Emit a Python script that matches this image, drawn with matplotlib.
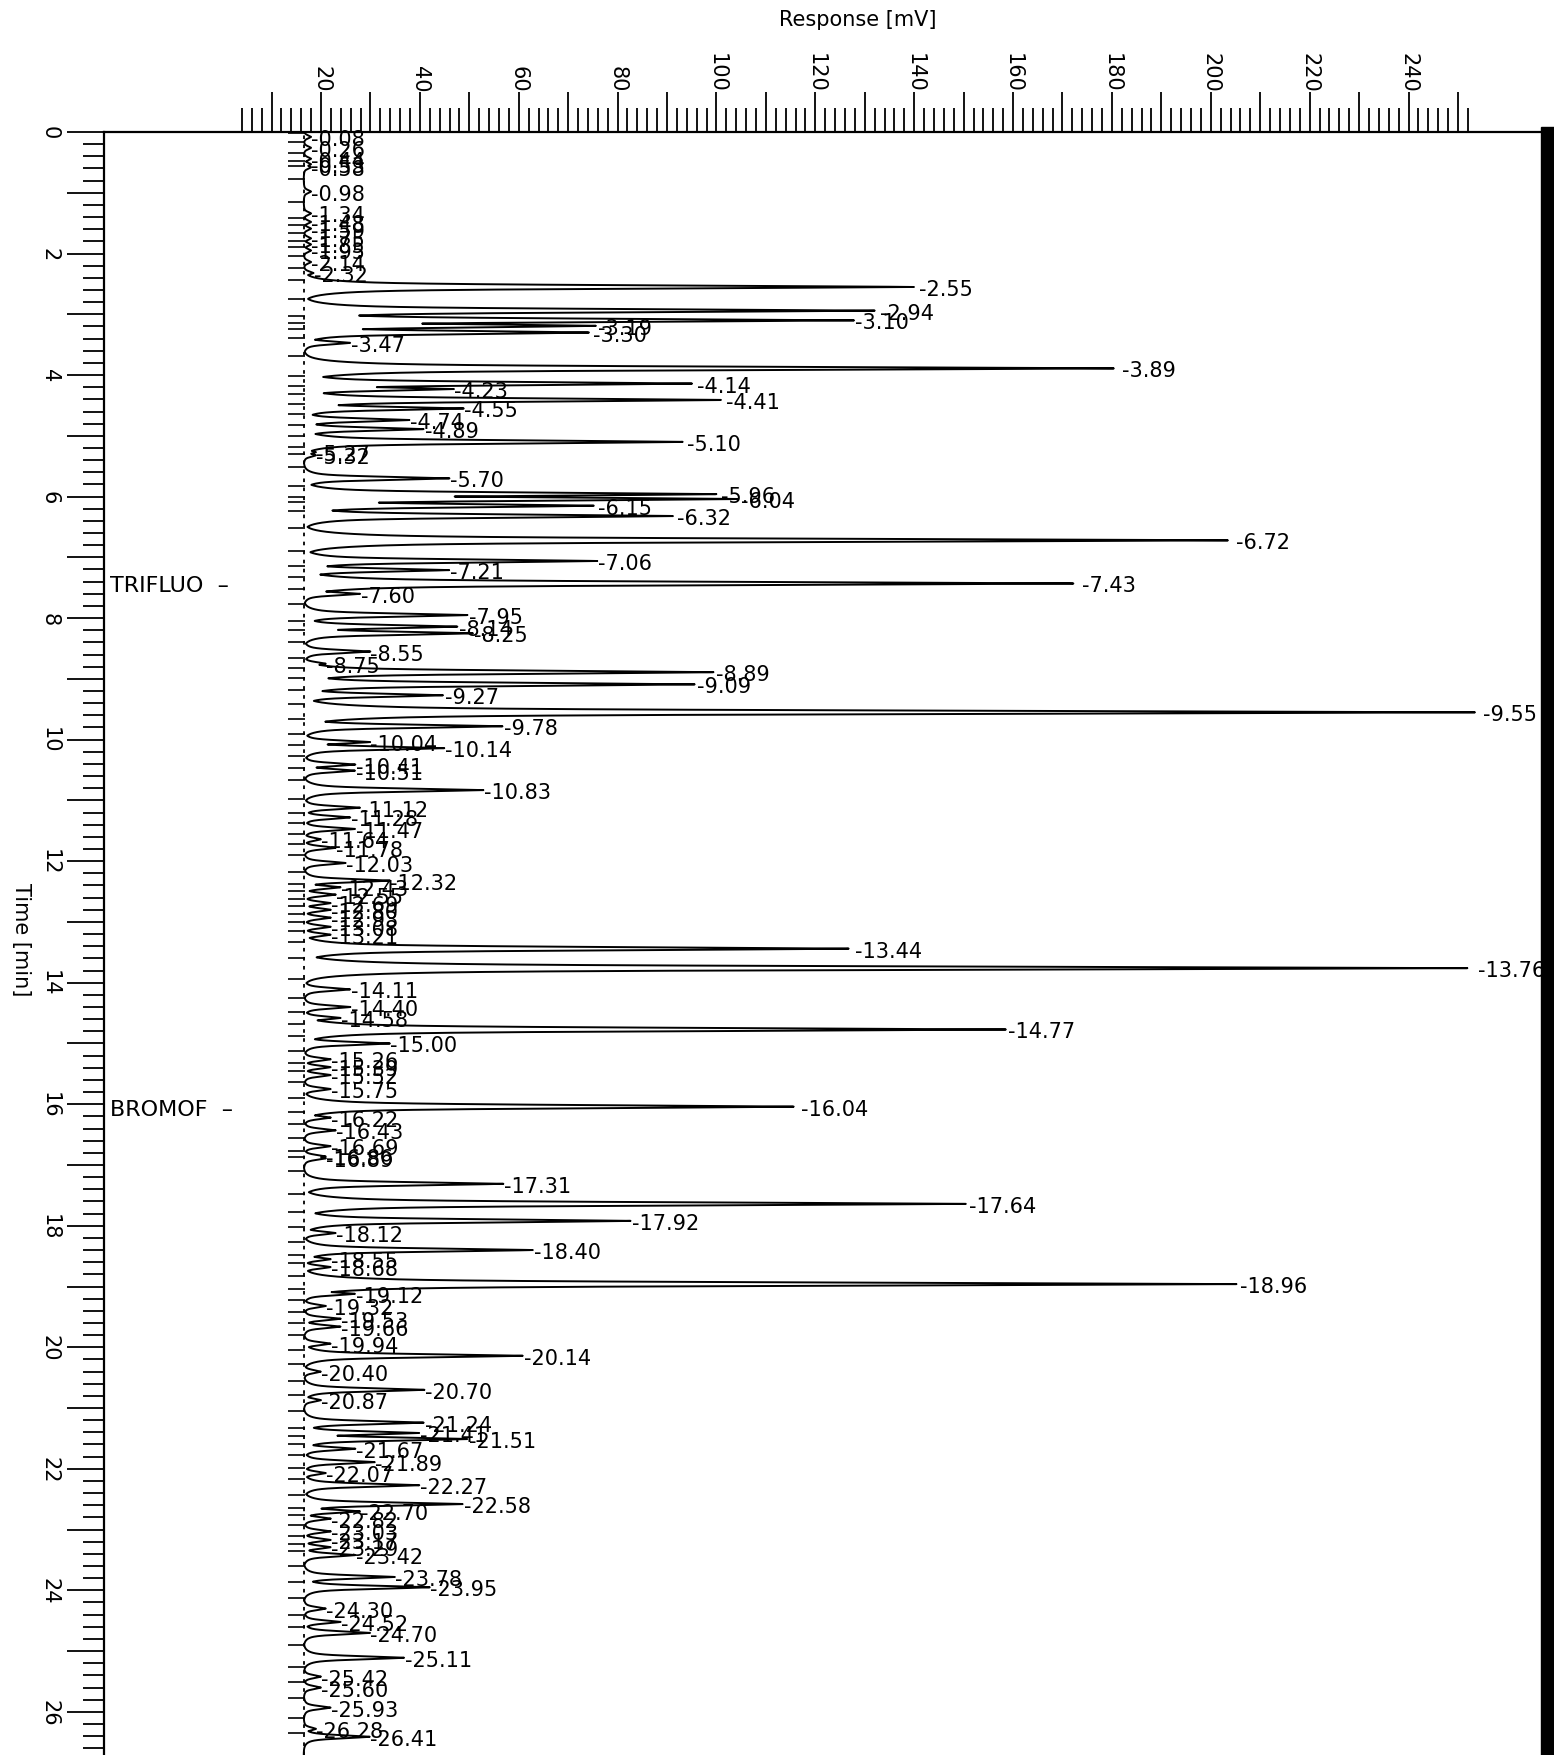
import numpy as np
import matplotlib.pyplot as plt
from matplotlib import ticker, transforms
from matplotlib.patches import Rectangle

# peak table: retention time [min], apex response [mV]
peak_times = [0.08, 0.26, 0.44, 0.53, 0.58, 0.98, 1.34, 1.48, 1.59, 1.75, 1.85, 1.95, 2.14, 2.32,
              2.55, 2.94, 3.10, 3.19, 3.30, 3.47, 3.89, 4.14, 4.23, 4.41, 4.55, 4.74, 4.89, 5.10,
              5.27, 5.32, 5.70, 5.96, 6.04, 6.15, 6.32, 6.72, 7.06, 7.21, 7.43, 7.60, 7.95, 8.14,
              8.25, 8.55, 8.75, 8.89, 9.09, 9.27, 9.55, 9.78, 10.04, 10.14, 10.41, 10.51, 10.83,
              11.12, 11.28, 11.47, 11.64, 11.78, 12.03, 12.32, 12.43, 12.55, 12.69, 12.80, 12.93,
              13.08, 13.21, 13.44, 13.76, 14.11, 14.40, 14.58, 14.77, 15.00, 15.26, 15.39, 15.52,
              15.75, 16.04, 16.22, 16.43, 16.69, 16.86, 16.89, 17.31, 17.64, 17.92, 18.12, 18.40,
              18.55, 18.68, 18.96, 19.12, 19.32, 19.53, 19.66, 19.94, 20.14, 20.40, 20.70, 20.87,
              21.24, 21.41, 21.51, 21.67, 21.89, 22.07, 22.27, 22.58, 22.70, 22.82, 23.03, 23.17,
              23.29, 23.42, 23.78, 23.95, 24.30, 24.52, 24.70, 25.11, 25.42, 25.60, 25.93, 26.28,
              26.41]
peak_heights = [18, 18, 18, 18, 18, 18, 18, 18, 18, 18, 18, 18, 18, 18.5,
                141, 133, 128, 76, 75, 26, 182, 96, 47, 102, 49, 38, 41, 94,
                19, 19, 46, 101, 105, 76, 92, 205, 76, 46, 174, 28, 50, 48,
                51, 30, 21, 100, 96, 45, 255, 57, 30, 45, 27, 27, 53,
                28, 26, 27, 20, 23, 25, 34, 24, 23, 22, 22, 22,
                22, 22, 128, 254, 26, 26, 24, 159, 34, 22, 22, 22,
                22, 117, 22, 23, 22, 21, 21, 57, 151, 83, 23, 63,
                22, 22, 206, 27, 21, 24, 24, 22, 61, 20, 41, 20,
                41, 40, 50, 27, 31, 21, 40, 49, 28, 22, 22, 22,
                22, 27, 35, 42, 21, 24, 30, 37, 20, 20, 22, 19,
                30]
compound_names = ["TRIFLUO", "BROMOF"]
compound_times = [7.43, 16.04]
baseline_mv = 16.5

W, H = 1554, 1756
fig = plt.figure(figsize=(W / 100, H / 100), dpi=100)
ax = fig.add_axes([104 / W, 0, 1437 / W, 1623 / H])
ax.set_xlim(-23.9, 266.8)
ax.set_ylim(26.71, 0)

# rebuild the trace from the peak table (sharp tip, wide exponential skirts)
t = np.linspace(0, 26.8, 12000)
signal = np.zeros_like(t)
for tp, hp in zip(peak_times, peak_heights):
    d = t - tp
    shape = 0.45 * np.exp(-0.5 * (d / 0.025) ** 2) + 0.55 * np.exp(-np.abs(d) / 0.045)
    signal = np.maximum(signal, (hp - baseline_mv) * shape)
ax.plot(baseline_mv + signal, t, color="black", lw=1.4)

# baseline + integration event marks
ax.axvline(baseline_mv, color="black", lw=1.3, ls=(0, (2, 3)))
valleys = [peak_times[0] - 0.06] + [(a + b) / 2 for a, b in zip(peak_times[:-1], peak_times[1:])]
ax.hlines(valleys, 13.4, 16.8, color="black", lw=1.2)

for tp, hp in zip(peak_times, peak_heights):
    ax.text(hp, tp, "-" + f"{tp:.2f}", ha="left", va="center_baseline",
            fontsize=15, family="DejaVu Sans", clip_on=False)

trans = transforms.blended_transform_factory(ax.transAxes, ax.transData)
for name, ct in zip(compound_names, compound_times):
    ax.text(0.004, ct, name + "  \u2013", transform=trans, ha="left",
            va="center_baseline", fontsize=16, family="DejaVu Sans")

# axes look like the plotter output
for s in ["bottom", "right"]:
    ax.spines[s].set_visible(False)
for s in ["top", "left"]:
    ax.spines[s].set_linewidth(1.6)

ax.xaxis.set_ticks_position("top")
xmaj = np.arange(10, 251, 10)
ax.set_xticks(xmaj)
ax.set_xticklabels([str(v) if v % 20 == 0 else "" for v in xmaj], rotation=-90)
ax.xaxis.set_minor_locator(ticker.FixedLocator(np.arange(4, 253, 2)))
ax.tick_params(axis="x", which="major", length=29, width=1.3, pad=0, labelsize=15)
ax.tick_params(axis="x", which="minor", length=17, width=1.3)

ymaj = np.arange(0, 27, 1)
ax.set_yticks(ymaj)
ax.set_yticklabels([str(v) if v % 2 == 0 else "" for v in ymaj], rotation=-90)
ax.yaxis.set_minor_locator(ticker.FixedLocator(np.arange(0, 26.8, 0.2)))
ax.tick_params(axis="y", which="major", length=27, width=1.3, pad=5, labelsize=15)
ax.tick_params(axis="y", which="minor", length=15, width=1.3)
for lab in ax.get_yticklabels():
    lab.set_va("center")

fig.text(858 / W, 1 - 20 / H, "Response [mV]", ha="center", va="center", fontsize=15)
fig.text(21 / W, 1 - 940 / H, "Time [min]", ha="center", va="center", fontsize=15, rotation=-90)

fig.patches.append(Rectangle((1541 / W, 0), 13 / W, 1 - 128 / H, transform=fig.transFigure,
                             color="black", zorder=5))

fig.savefig("out.png", dpi=100)
